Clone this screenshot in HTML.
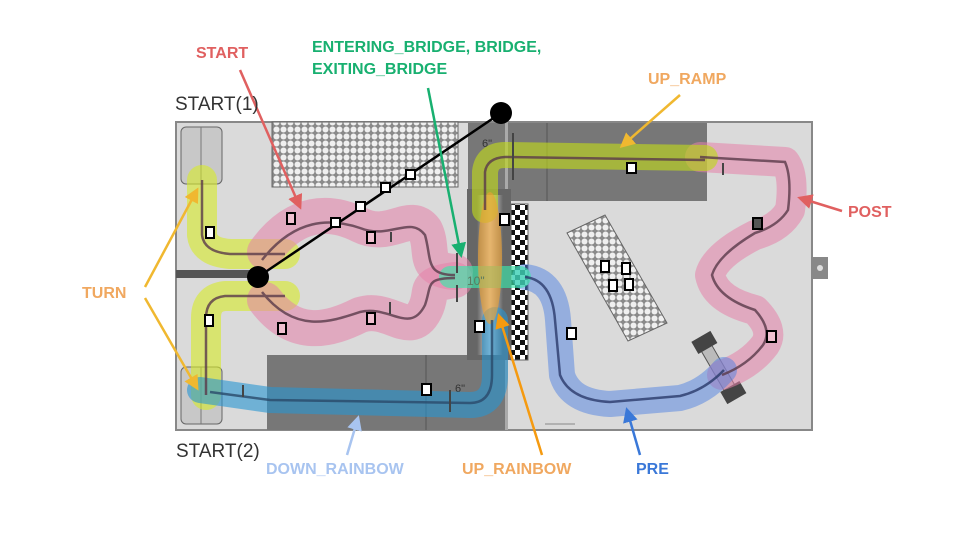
<!DOCTYPE html>
<html><head><meta charset="utf-8"><style>
body{margin:0;background:#fff;width:960px;height:540px;overflow:hidden}
text{font-family:"Liberation Sans",sans-serif}
</style></head><body>
<svg width="960" height="540" viewBox="0 0 960 540" xmlns="http://www.w3.org/2000/svg">
<defs>
<pattern id="dots" width="7" height="7" patternUnits="userSpaceOnUse">
<rect width="7" height="7" fill="#8a8a8a"/><circle cx="3.5" cy="3.5" r="3" fill="#efefef"/></pattern>
<pattern id="chk" width="10" height="10" patternUnits="userSpaceOnUse">
<rect width="10" height="10" fill="#fff"/><rect width="5" height="5" fill="#111"/><rect x="5" y="5" width="5" height="5" fill="#111"/></pattern>
<linearGradient id="ramp" x1="0" x2="1"><stop offset="0" stop-color="#666"/><stop offset="0.5" stop-color="#ddd"/><stop offset="1" stop-color="#666"/></linearGradient>
<marker id="rr" viewBox="0 0 10 10" refX="8" refY="5" markerWidth="6" markerHeight="6" orient="auto"><path d="M0,0L10,5L0,10z" fill="#e06060"/></marker>
<marker id="gg" viewBox="0 0 10 10" refX="8" refY="5" markerWidth="6" markerHeight="6" orient="auto"><path d="M0,0L10,5L0,10z" fill="#18b070"/></marker>
<marker id="yy" viewBox="0 0 10 10" refX="8" refY="5" markerWidth="6" markerHeight="6" orient="auto"><path d="M0,0L10,5L0,10z" fill="#f0b830"/></marker>
<marker id="oo" viewBox="0 0 10 10" refX="8" refY="5" markerWidth="6" markerHeight="6" orient="auto"><path d="M0,0L10,5L0,10z" fill="#f59a10"/></marker>
<marker id="lb" viewBox="0 0 10 10" refX="8" refY="5" markerWidth="6" markerHeight="6" orient="auto"><path d="M0,0L10,5L0,10z" fill="#a8c4f0"/></marker>
<marker id="bb" viewBox="0 0 10 10" refX="8" refY="5" markerWidth="6" markerHeight="6" orient="auto"><path d="M0,0L10,5L0,10z" fill="#3a78d8"/></marker>
</defs>
<rect x="176" y="122" width="636" height="308" fill="#dadada" stroke="#888" stroke-width="2"/>
<rect x="812" y="257" width="16" height="22" fill="#888"/><circle cx="820" cy="268" r="3" fill="#ddd"/>
<rect x="468" y="123" width="239" height="78" fill="#777"/>
<line x1="547" y1="123" x2="547" y2="201" stroke="#555"/>
<rect x="267" y="355" width="238" height="75" fill="#777"/>
<line x1="426" y1="355" x2="426" y2="430" stroke="#555"/>
<rect x="505" y="122" width="3" height="308" fill="#aaa"/>
<rect x="467" y="189" width="44" height="171" fill="#666"/>
<rect x="477" y="195" width="26" height="160" fill="url(#ramp)"/>
<rect x="511" y="204" width="17" height="156" fill="url(#chk)" stroke="#666"/>
<rect x="272" y="122" width="186" height="65" fill="url(#dots)" stroke="#666"/>
<polygon points="567,233 605,215 667,323 628,341" fill="url(#dots)" stroke="#666"/>
<rect x="181" y="127" width="41" height="57" rx="5" fill="#c8c8c8" stroke="#666"/>
<rect x="181" y="367" width="41" height="57" rx="5" fill="#c8c8c8" stroke="#666"/>
<line x1="201" y1="127" x2="201" y2="180" stroke="#777"/><line x1="201" y1="367" x2="201" y2="424" stroke="#777"/>
<rect x="176" y="270" width="82" height="8" fill="#555"/>
<line x1="545" y1="424" x2="575" y2="424" stroke="#888"/>
<text x="482" y="147" font-size="11" fill="#333">6"</text>
<text x="455" y="392" font-size="11" fill="#333">6"</text>
<g transform="rotate(60 718 368)"><rect x="690" y="362" width="56" height="12" fill="#bbb" stroke="#555"/><rect x="682" y="356" width="14" height="22" fill="#444"/><rect x="740" y="356" width="14" height="22" fill="#444"/></g>
<g fill="none" stroke-linecap="round" stroke-linejoin="round">
<path d="M202,180 L202,235 Q204,252 230,254 L285,254" stroke="rgba(215,235,40,0.6)" stroke-width="30"/>
<path d="M285,296 L225,296 Q206,298 206,318 L206,395" stroke="rgba(215,235,40,0.6)" stroke-width="30"/>
<path d="M265,252 C295,210 330,210 360,225 C390,240 410,210 425,230 C435,250 420,270 455,272" stroke="rgba(230,130,170,0.55)" stroke-width="36"/>
<path d="M265,300 C295,340 330,330 360,315 C390,305 410,340 425,310 C435,290 420,285 455,280" stroke="rgba(230,130,170,0.55)" stroke-width="36"/>
<path d="M700,157 L785,162 Q795,175 790,210 Q780,228 755,235 Q715,255 710,275 Q715,300 755,310 Q775,330 765,345 Q750,365 722,375" stroke="rgba(230,130,170,0.55)" stroke-width="30"/>
<path d="M485,210 L485,172 Q487,155 505,155 L705,158" stroke="rgba(190,215,30,0.65)" stroke-width="26"/>
<path d="M525,277 Q555,280 558,320 L562,375 Q570,402 610,404 L680,398 Q705,392 724,370" stroke="rgba(80,130,225,0.5)" stroke-width="26"/>
<path d="M200,390 L270,400 L470,405 Q495,405 495,375 L495,320" stroke="rgba(40,150,210,0.6)" stroke-width="26"/>
<path d="M450,277 L520,277" stroke="rgba(60,230,170,0.65)" stroke-width="22"/>
</g>
<ellipse cx="490" cy="258" rx="12" ry="66" fill="rgba(235,160,50,0.65)"/>
<g fill="none" stroke="#5a3a4a" stroke-width="2.5" opacity="0.8">
<path d="M202,180 L202,235 Q204,252 230,254 L285,254"/>
<path d="M285,296 L225,296 Q206,298 206,318 L206,395"/>
<path d="M262,260 C295,218 330,218 360,228 C390,240 410,215 425,235 C432,260 425,275 455,275"/>
<path d="M262,292 C295,334 330,322 360,312 C390,305 410,335 425,305 C432,285 425,278 455,278"/>
<path d="M700,157 L785,162 Q792,178 788,210 Q778,226 755,233 Q718,255 712,275 Q718,298 755,310 Q773,330 763,345 Q748,365 722,375"/>
<path d="M485,210 L485,172 Q487,158 505,157 L705,160"/>
<path d="M525,277 Q552,280 555,320 L560,375 Q570,400 610,402 L680,396 Q705,390 724,370" stroke="#2a3a6a"/>
<path d="M210,392 L270,400 L470,403 Q492,403 492,375 L492,320" stroke="#2a4a6a"/>
</g>
<g stroke="#444" stroke-width="2">
<line x1="391" y1="232" x2="391" y2="242"/><line x1="390" y1="302" x2="390" y2="314"/><line x1="457" y1="253" x2="457" y2="273"/><line x1="457" y1="285" x2="457" y2="302"/>
<line x1="723" y1="163" x2="723" y2="175"/><line x1="243" y1="385" x2="243" y2="397"/><line x1="450" y1="390" x2="450" y2="412"/><line x1="513" y1="133" x2="513" y2="180"/>
</g>
<text x="467" y="285" font-size="12" fill="#5a7a60">10"</text>
<line x1="258" y1="277" x2="501" y2="113" stroke="#000" stroke-width="2.5"/>
<circle cx="258" cy="277" r="11" fill="#000"/><circle cx="501" cy="113" r="11" fill="#000"/>
<g fill="#fff" stroke="#000" stroke-width="2">
<rect x="331" y="218" width="9" height="9"/><rect x="356" y="202" width="9" height="9"/><rect x="381" y="183" width="9" height="9"/><rect x="406" y="170" width="9" height="9"/>
<rect x="206" y="227" width="8" height="11"/><rect x="205" y="315" width="8" height="11"/>
<rect x="287" y="213" width="8" height="11" fill="#f0c0d0"/><rect x="367" y="232" width="8" height="11" fill="#f0c0d0"/>
<rect x="278" y="323" width="8" height="11" fill="#f0c0d0"/><rect x="367" y="313" width="8" height="11" fill="#f0c0d0"/>
<rect x="627" y="163" width="9" height="10"/><rect x="500" y="214" width="9" height="11"/><rect x="475" y="321" width="9" height="11"/>
<rect x="422" y="384" width="9" height="11"/><rect x="567" y="328" width="9" height="11"/>
<rect x="753" y="218" width="9" height="11" fill="#555"/><rect x="767" y="331" width="9" height="11" fill="#f0c0d0"/>
<rect x="601" y="261" width="8" height="11"/><rect x="622" y="263" width="8" height="11"/><rect x="609" y="280" width="8" height="11"/><rect x="625" y="279" width="8" height="11"/>
</g>
<g stroke-width="2.5" fill="none">
<line x1="240" y1="70" x2="300" y2="207" stroke="#e06060" marker-end="url(#rr)"/>
<line x1="428" y1="88" x2="461" y2="255" stroke="#18b070" marker-end="url(#gg)"/>
<line x1="680" y1="95" x2="622" y2="146" stroke="#f0b830" marker-end="url(#yy)"/>
<line x1="842" y1="211" x2="800" y2="198" stroke="#e06060" marker-end="url(#rr)"/>
<line x1="145" y1="287" x2="197" y2="190" stroke="#f0b830" marker-end="url(#yy)"/>
<line x1="145" y1="298" x2="197" y2="388" stroke="#f0b830" marker-end="url(#yy)"/>
<line x1="347" y1="455" x2="358" y2="418" stroke="#a8c4f0" marker-end="url(#lb)"/>
<line x1="542" y1="455" x2="499" y2="316" stroke="#f59a10" marker-end="url(#oo)"/>
<line x1="640" y1="455" x2="627" y2="410" stroke="#3a78d8" marker-end="url(#bb)"/>
</g>
<g font-size="16" font-weight="bold">
<text x="196" y="58" fill="#e06060">START</text>
<text x="312" y="52" fill="#18b070">ENTERING_BRIDGE, BRIDGE,</text>
<text x="312" y="74" fill="#18b070">EXITING_BRIDGE</text>
<text x="648" y="84" fill="#f0a860">UP_RAMP</text>
<text x="848" y="217" fill="#e06060">POST</text>
<text x="82" y="298" fill="#f0a860">TURN</text>
<text x="266" y="474" fill="#a8c4f0">DOWN_RAINBOW</text>
<text x="462" y="474" fill="#f0a860">UP_RAINBOW</text>
<text x="636" y="474" fill="#3a78d8">PRE</text>
</g>
<text x="175" y="110" font-size="19" fill="#333">START(1)</text>
<text x="176" y="457" font-size="19" fill="#333">START(2)</text>
</svg>
</body></html>
